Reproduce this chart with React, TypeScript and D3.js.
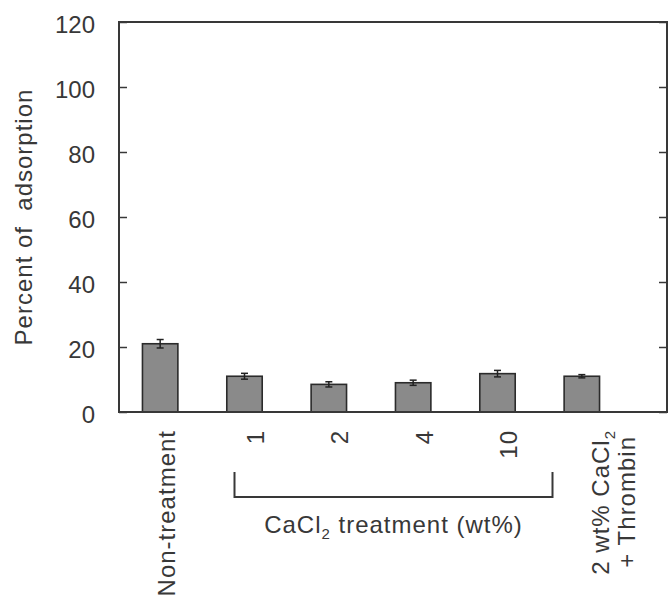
import { useEffect, useRef } from 'react'
import * as d3 from 'd3'

const categories = ['Non-treatment', '1', '2', '4', '10', 'CaCl2+Thrombin']
const adsorption = [21.0, 11.0, 8.5, 9.0, 11.8, 11.0]
const errors = [1.3, 0.9, 0.8, 0.8, 1.0, 0.5]
const yTicks = [0, 20, 40, 60, 80, 100, 120]

const W = 668
const H = 599
const FONT = "'Liberation Sans', Arial, sans-serif"
const INK = '#383838'
const SPACING = '1px'

export default function App() {
  const svgRef = useRef<SVGSVGElement>(null)

  useEffect(() => {
    if (!svgRef.current) return
    const svg = d3.select(svgRef.current)
    svg.selectAll('*').remove()

    const frame = { left: 119, right: 667, top: 22, bottom: 412 }

    const y = d3.scaleLinear().domain([0, 120]).range([frame.bottom, frame.top])
    const x = d3
      .scaleBand<string>()
      .domain(categories)
      .range([118, 624])
      .paddingInner(0.58)
      .paddingOuter(0.29)
    const bw = x.bandwidth()
    const cx = (c: string) => (x(c) as number) + bw / 2

    const g = svg.append('g').attr('font-family', FONT).attr('fill', INK)

    // bars
    g.selectAll('rect.bar')
      .data(categories)
      .join('rect')
      .attr('class', 'bar')
      .attr('x', d => x(d) as number)
      .attr('y', (d, i) => y(adsorption[i]))
      .attr('width', bw)
      .attr('height', (d, i) => frame.bottom - y(adsorption[i]))
      .attr('fill', '#8a8a8a')
      .attr('stroke', '#2b2b2b')
      .attr('stroke-width', 1.6)

    // error bars
    const eb = g.selectAll('g.err').data(categories).join('g').attr('class', 'err')
    eb.append('line')
      .attr('x1', d => cx(d))
      .attr('x2', d => cx(d))
      .attr('y1', (d, i) => y(adsorption[i] - errors[i]))
      .attr('y2', (d, i) => y(adsorption[i] + errors[i]))
      .attr('stroke', '#222')
      .attr('stroke-width', 1.5)
    ;[1, -1].forEach(s => {
      eb.append('line')
        .attr('x1', d => cx(d) - 3.5)
        .attr('x2', d => cx(d) + 3.5)
        .attr('y1', (d, i) => y(adsorption[i] + s * errors[i]))
        .attr('y2', (d, i) => y(adsorption[i] + s * errors[i]))
        .attr('stroke', '#222')
        .attr('stroke-width', 1.5)
    })

    // frame
    g.append('rect')
      .attr('x', frame.left)
      .attr('y', frame.top)
      .attr('width', frame.right - frame.left)
      .attr('height', frame.bottom - frame.top)
      .attr('fill', 'none')
      .attr('stroke', INK)
      .attr('stroke-width', 2)

    // left axis, inward ticks
    g.append('g')
      .attr('transform', `translate(${frame.left},0)`)
      .call(d3.axisLeft(y).tickValues(yTicks).tickSize(-8).tickPadding(24))
      .call(a => a.select('.domain').remove())
      .call(a => a.selectAll('.tick line').attr('stroke', INK).attr('stroke-width', 1.5))
      .call(a =>
        a.selectAll('.tick text')
          .attr('fill', INK)
          .attr('font-size', 24)
          .attr('font-family', FONT)
          .attr('dy', '0.45em')
      )

    // right axis, inward ticks, no labels
    g.append('g')
      .attr('transform', `translate(${frame.right},0)`)
      .call(d3.axisRight(y).tickValues(yTicks).tickSize(-8).tickFormat(() => ''))
      .call(a => a.select('.domain').remove())
      .call(a => a.selectAll('.tick line').attr('stroke', INK).attr('stroke-width', 1.5))

    // y title
    g.append('text')
      .attr('transform', `translate(32,${(frame.top + frame.bottom) / 2}) rotate(-90)`)
      .attr('text-anchor', 'middle')
      .attr('font-size', 24)
      .attr('letter-spacing', SPACING)
      .style('white-space', 'pre')
      .text('Percent of  adsorption')

    // x labels (rotated)
    const labelTop = 430
    categories.slice(0, 5).forEach((c, i) => {
      g.append('text')
        .attr('transform', `translate(${cx(c) + (i === 0 ? 6 : 11)},${labelTop}) rotate(-90)`)
        .attr('text-anchor', 'end')
        .attr('dy', '0.36em')
        .attr('font-size', 24)
        .attr('letter-spacing', SPACING)
        .text(c)
    })

    const last = categories[5]
    const l1 = g
      .append('text')
      .attr('transform', `translate(${cx(last) + 19},${labelTop}) rotate(-90)`)
      .attr('text-anchor', 'end')
      .attr('dy', '0.36em')
      .attr('font-size', 24)
      .attr('letter-spacing', SPACING)
    l1.append('tspan').text('2 wt% CaCl')
    l1.append('tspan').attr('font-size', 15).attr('dy', 6).text('2')
    g.append('text')
      .attr('transform', `translate(${cx(last) + 45},${labelTop + 6}) rotate(-90)`)
      .attr('text-anchor', 'end')
      .attr('dy', '0.36em')
      .attr('font-size', 24)
      .attr('letter-spacing', SPACING)
      .text('+ Thrombin')

    // bracket for CaCl2 treatment group
    const bx0 = cx('1') - 10
    const bx1 = cx('10') + 55
    g.append('path')
      .attr('d', `M${bx0},472V497H${bx1}V472`)
      .attr('fill', 'none')
      .attr('stroke', INK)
      .attr('stroke-width', 2)

    const t = g
      .append('text')
      .attr('x', (bx0 + bx1) / 2)
      .attr('y', 533)
      .attr('text-anchor', 'middle')
      .attr('font-size', 24)
      .attr('letter-spacing', SPACING)
    t.append('tspan').text('CaCl')
    t.append('tspan').attr('font-size', 15).attr('dy', 6).text('2')
    t.append('tspan').attr('dy', -6).text(' treatment (wt%)')
  }, [])

  return (
    <svg
      ref={svgRef}
      width={W}
      height={H}
      style={{ position: 'absolute', left: 0, top: 0, background: '#fff' }}
    />
  )
}
